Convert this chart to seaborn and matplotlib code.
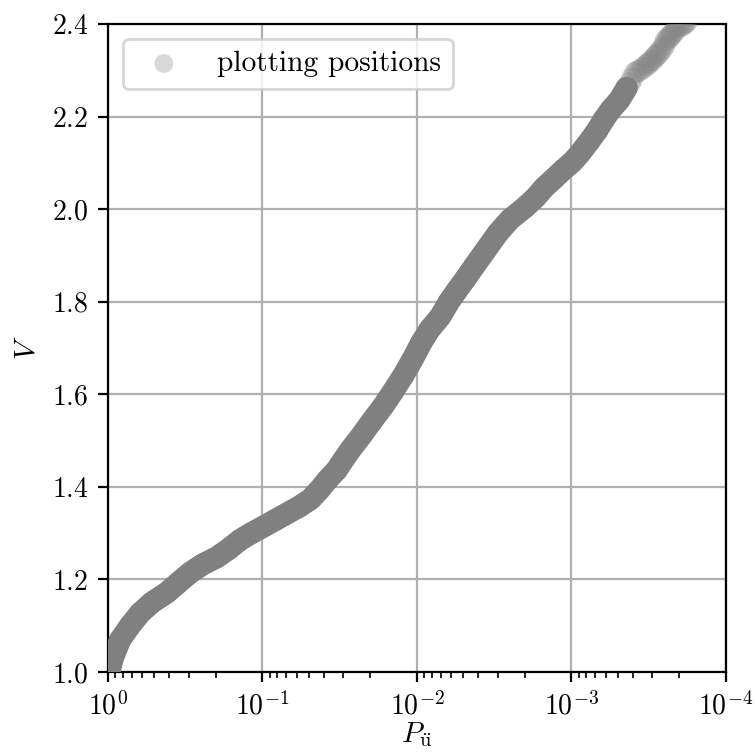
import numpy as np
import pandas as pd
import matplotlib
matplotlib.use("Agg")
import matplotlib.pyplot as plt
import seaborn as sns

# exceedance probability and value V
p_ue = [0.98, 0.93, 0.836, 0.72, 0.62, 0.52, 0.417, 0.35, 0.295, 0.245, 0.197,
        0.165, 0.14, 0.118, 0.1, 0.083, 0.069, 0.058, 0.049, 0.043, 0.038,
        0.033, 0.030, 0.027, 0.023, 0.0193, 0.0165, 0.0143, 0.0123, 0.0107,
        0.0094, 0.0083, 0.0071, 0.0062, 0.0055, 0.0048, 0.0043, 0.0036,
        0.0030, 0.0025, 0.0020, 0.0017, 0.0015, 0.0013, 0.00114, 0.00098,
        0.00088, 0.00077, 0.00068, 0.00062, 0.00056, 0.00049, 0.00044]
v = [1.0, 1.03, 1.069, 1.10, 1.127, 1.15, 1.171, 1.193, 1.214, 1.232, 1.248,
     1.266, 1.285, 1.30, 1.313, 1.328, 1.343, 1.357, 1.373, 1.393, 1.415,
     1.437, 1.458, 1.48, 1.51, 1.545, 1.575, 1.606, 1.640, 1.675, 1.711,
     1.740, 1.767, 1.800, 1.825, 1.852, 1.875, 1.911, 1.948, 1.978, 2.004,
     2.026, 2.047, 2.066, 2.084, 2.103, 2.121, 2.146, 2.171, 2.193, 2.214,
     2.236, 2.262]

# sparse tail at the top, single points still visible
p_tail = [0.00046, 0.00044, 0.00042, 0.000405, 0.00039, 0.000375, 0.00036,
          0.000345, 0.00033, 0.00032, 0.00031, 0.0003, 0.00029, 0.000282,
          0.000275, 0.000266, 0.000257, 0.00025, 0.000245, 0.000238,
          0.000232, 0.000226, 0.00022, 0.000212, 0.000205, 0.000197,
          0.00019, 0.000185, 0.00018]
v_tail = [2.25, 2.262, 2.272, 2.282, 2.294, 2.298, 2.30, 2.305, 2.31, 2.314,
          2.318, 2.322, 2.328, 2.332, 2.336, 2.342, 2.348, 2.356, 2.365,
          2.368, 2.372, 2.376, 2.381, 2.387, 2.393, 2.396, 2.398, 2.402, 2.405]

plt.rcParams.update({
    "font.family": "serif",
    "font.serif": ["cmr10"],
    "mathtext.fontset": "cm",
    "axes.formatter.use_mathtext": True,
    "axes.unicode_minus": False,
    "font.size": 10,
})

df = pd.DataFrame({"P": p_ue, "V": v})
tail = pd.DataFrame({"P": p_tail, "V": v_tail})
pts = pd.concat([df, tail], ignore_index=True)

fig = plt.figure(figsize=(7.55 / 2, 7.52 / 2), dpi=200)
ax = fig.add_axes([0.143, 0.1064, 0.8186, 0.8616])
ax.set_xscale("log")

sns.lineplot(data=df, x="P", y="V", ax=ax, color="gray", lw=8,
             solid_capstyle="round", solid_joinstyle="round",
             sort=False, estimator=None, zorder=3)
sns.scatterplot(data=pts, x="P", y="V", ax=ax, color="gray", alpha=0.3,
                s=64, edgecolor="none", zorder=4, label="plotting positions")

ax.set_xlim(1, 1e-4)
ax.set_ylim(1.0, 2.4)
ax.grid(True, which="major", color="#b0b0b0", lw=0.8)
ax.set_axisbelow(True)
ax.set_xlabel(r"$P_{\ddot{\mathrm{u}}}$", labelpad=0, fontsize=10.5)
ax.set_ylabel(r"$V$", fontsize=10.5)
ax.legend(loc="upper left", fontsize=10.6, markerscale=0.85)

fig.savefig("out.png", dpi=200)
